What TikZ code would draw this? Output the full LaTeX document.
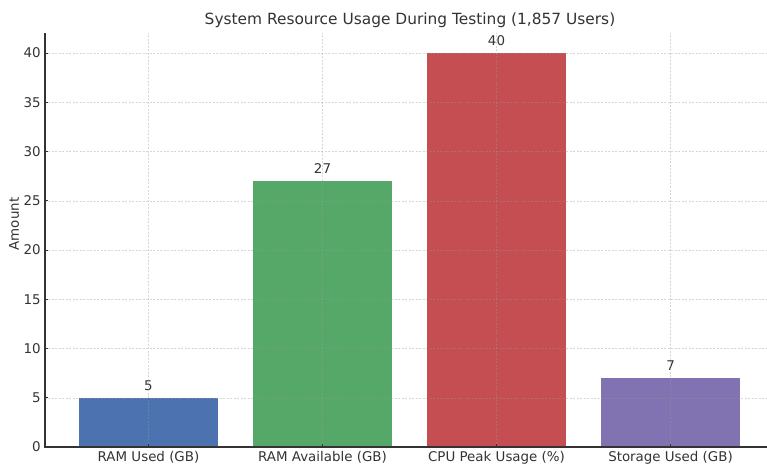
\documentclass[tikz,border=0pt]{standalone}
\usepackage{fontspec}
\setmainfont{DejaVu Sans}
\usetikzlibrary{positioning}
\tikzset{>=stealth}
\definecolor{ramused}{HTML}{4C72B0}
\definecolor{ramfree}{HTML}{55A868}
\definecolor{cpupeak}{HTML}{C44E52}
\definecolor{storage}{HTML}{8172B2}
\definecolor{inkgrey}{HTML}{333333}
\tikzset{gridline/.style={dash pattern=on 2pt off 1.5pt, gray!80, draw opacity=0.4, line width=0.4pt},
  ticklabel/.style={font=\fontsize{13.4}{15}\selectfont, text=inkgrey, inner sep=0pt},
  barlabel/.style={font=\fontsize{13.4}{15}\selectfont, text=inkgrey, inner sep=0pt, anchor=base}}

\begin{document}
\begin{tikzpicture}[x=1pt, y=1pt]
    \useasboundingbox (0,0) rectangle (767,464);
    \clip (0,0) rectangle (767,464);
    \begin{scope}[shift={(148.5,17)}, x=174pt, y=9.85pt]
    \coordinate (O) at (-0.595,0);
    \coordinate (T) at (-0.595,42);
    \coordinate (R) at (3.6,0);
    % bars
    \foreach \i/\v/\c in {0/5/ramused, 1/27/ramfree, 2/40/cpupeak, 3/7/storage}
    {
      \fill [\c] (\i-0.4,0) rectangle (\i+0.4,\v);
      \node [barlabel] (lab\i) at ([yshift=7.5pt]\i,\v) {\v};
    }
    % grid
    \foreach \y in {5,10,...,40}
      \draw [gridline] (-0.595,\y) -- (3.6,\y);
    \foreach \i in {0,1,2,3}
      \draw [gridline] (\i,0) -- (\i,42);
    % axes
    \draw [inkgrey, line width=1.1pt] (T) -- (O) -- (R);
    \foreach \y in {0,5,...,40}
    {
      \draw [inkgrey, line width=0.8pt] (-0.595,\y) -- ++(3.5pt,0);
      \node [ticklabel, anchor=east] (ytick\y) at ([xshift=-4pt]-0.595,\y) {\y};
    }
    \foreach \i/\t in {0/RAM Used (GB), 1/RAM Available (GB), 2/CPU Peak Usage (\%), 3/Storage Used (GB)}
    {
      \draw [inkgrey, line width=0.8pt] (\i,0) -- ++(0,3.5pt);
      \node [ticklabel, anchor=north] (xtick\i) at ([yshift=-4pt]\i,0) {\t};
    }
    \end{scope}
    \node [ticklabel, rotate=90] (ylab) at (14,240) {Amount};
    \node [font=\fontsize{15.4}{18}\selectfont, text=inkgrey, inner sep=0pt] (title) at (410,443.5) {System Resource Usage During Testing (1,857 Users)};
\end{tikzpicture}
\end{document}
